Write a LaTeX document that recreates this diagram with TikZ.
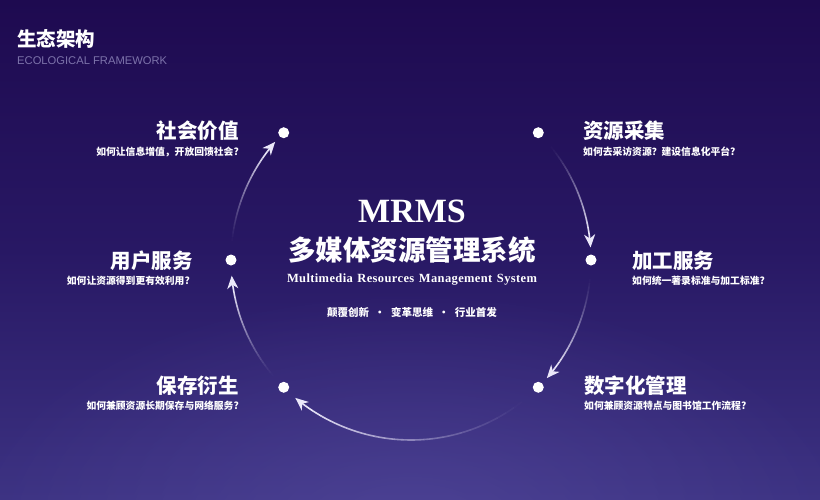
\documentclass[tikz,border=0pt]{standalone}
\usepackage{fontspec}
\setmainfont{Liberation Serif}
\setsansfont{Liberation Sans}
\newfontfamily\cjk{Noto Sans CJK SC}
\newfontfamily\spaced{Liberation Serif}[LetterSpace=3]
\usetikzlibrary{arrows.meta,fadings,calc}
\definecolor{bgtop}{RGB}{30,10,80}
\definecolor{bgmid}{RGB}{40,24,100}
\definecolor{bgbot}{RGB}{60,50,130}
\definecolor{glowc}{RGB}{95,85,170}
\definecolor{subgray}{RGB}{125,115,170}
\definecolor{flowc}{RGB}{235,232,250}
\tikzfading[name=glowfade, inner color=transparent!0, outer color=transparent!100]
\tikzset{
  dot/.style={circle,fill=white,minimum size=11pt,inner sep=0pt},
  ttl/.style={text=white,inner sep=0pt,font=\cjk\bfseries\fontsize{20.5}{21}\selectfont},
  sub/.style={text=white,inner sep=0pt,font=\cjk\bfseries\fontsize{9.8}{10}\selectfont},
  flow/.style={draw=flowc,line width=1.6pt},
}
\newcommand\fadingarc[2]{%
  \foreach \i in {0,...,23}{%
    \pgfmathsetmacro\aa{#1+(#2+4-#1)*\i/24}%
    \pgfmathsetmacro\ab{#1+(#2+4-#1)*(\i+1)/24}%
    \pgfmathsetmacro\op{((\i+1)/24)^1.3}%
    \draw[flow,draw opacity=\op] ([shift={(\aa:180)}]C) arc[start angle=\aa,end angle=\ab,radius=180];
  }%
  \pgfmathsetmacro\ac{#2+4}%
  \draw[flow,-{Stealth[length=13pt,width=11pt,inset=4pt]}] ([shift={(\ac:180)}]C) arc[start angle=\ac,end angle=#2,radius=180];
}
\newcommand\mdot{\char"00B7\relax}
\begin{document}
\begin{tikzpicture}[x=1pt,y=1pt]
\useasboundingbox (0,0) rectangle (820,-499);
\shade[top color=bgtop,bottom color=bgbot,middle color=bgmid] (0,0) rectangle (820,-499);
\begin{scope}
\clip (0,0) rectangle (820,-499);
\fill[glowc,path fading=glowfade,opacity=0.45] (410,-530) ellipse (450 and 240);
\end{scope}

% header
\node[text=white,inner sep=0pt,anchor=west,font=\cjk\bfseries\fontsize{19.5}{20}\selectfont] (hdr) at (17,-39) {生态架构};
\node[text=subgray,inner sep=0pt,anchor=west,font=\sffamily\fontsize{11.2}{11}\selectfont] (hdr2) at (17,-61) {ECOLOGICAL FRAMEWORK};

% circle center and dots
\coordinate (C) at (411,-260);
\node[dot] (d1) at ([shift={(45:180)}]C) {};
\node[dot] (d2) at ([shift={(0:180)}]C) {};
\node[dot] (d3) at ([shift={(-45:180)}]C) {};
\node[dot] (d4) at ([shift={(225:180)}]C) {};
\node[dot] (d5) at ([shift={(180:180)}]C) {};
\node[dot] (d6) at ([shift={(135:180)}]C) {};

% arcs
\fadingarc{39}{4}
\fadingarc{-6}{-41}
\fadingarc{-52}{-130}
\fadingarc{220}{185}
\fadingarc{174}{139}

% labels right
\node[ttl,anchor=west] (t1) at (583,-131) {资源采集};
\node[sub,anchor=west] (s1) at (583,-152) {如何去采访资源？建设信息化平台?};
\node[ttl,anchor=west] (t2) at (632,-261) {加工服务};
\node[sub,anchor=west] (s2) at (632,-281) {如何统一著录标准与加工标准?};
\node[ttl,anchor=west] (t3) at (584,-386) {数字化管理};
\node[sub,anchor=west] (s3) at (584,-406) {如何兼顾资源特点与图书馆工作流程?};
% labels left
\node[ttl,anchor=east] (t4) at (239,-386) {保存衍生};
\node[sub,anchor=east] (s4) at (239,-406) {如何兼顾资源长期保存与网络服务?};
\node[ttl,anchor=east] (t5) at (193,-261) {用户服务};
\node[sub,anchor=east] (s5) at (190,-281) {如何让资源得到更有效利用?};
\node[ttl,anchor=east] (t6) at (239,-131) {社会价值};
\node[sub,anchor=east] (s6) at (239,-152) {如何让信息增值，开放回馈社会?};

% center
\node[text=white,inner sep=0pt,font=\bfseries\fontsize{34}{34}\selectfont] (m1) at (412,-211) {MRMS};
\node[text=white,inner sep=0pt,font=\cjk\bfseries\fontsize{27.5}{28}\selectfont] (m2) at (412,-250) {多媒体资源管理系统};
\node[text=white,inner sep=0pt,font=\spaced\bfseries\fontsize{12.5}{13}\selectfont] (m3) at (412,-280) {\makebox[250pt][s]{Multimedia Resources Management System}};
\node[text=white,inner sep=0pt,font=\cjk\bfseries\fontsize{10.5}{11}\selectfont] (m4) at (412,-312) {\makebox[170pt]{颠覆创新\hfill{}\mdot{}\hfill{}变革思维\hfill{}\mdot{}\hfill{}行业首发}};
\end{tikzpicture}
\end{document}
